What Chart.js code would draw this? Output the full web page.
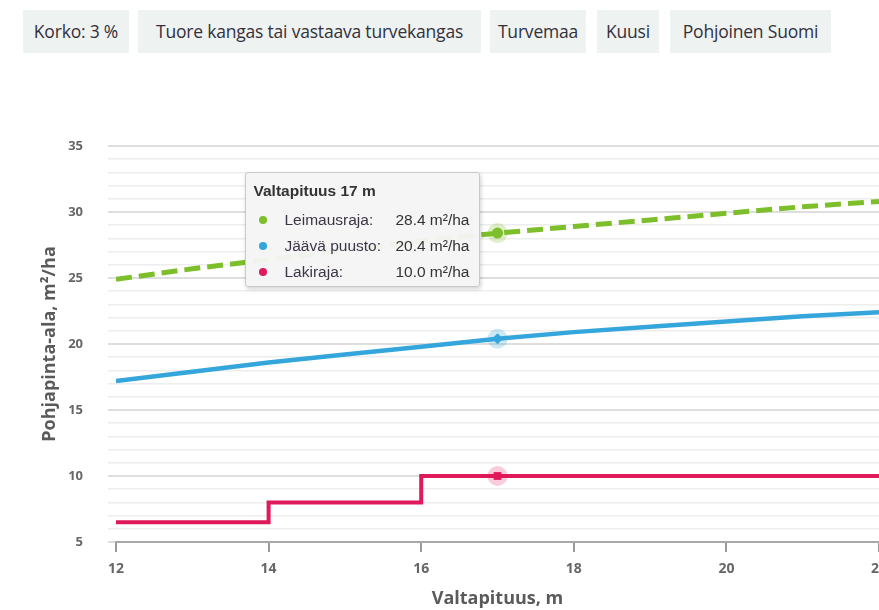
<!DOCTYPE html>
<html>
<head>
<meta charset="utf-8">
<script src="https://cdn.jsdelivr.net/npm/chart.js@4.4.0/dist/chart.umd.min.js"></script>
<style>
    html, body { margin: 0; padding: 0; background: #fff; width: 879px; height: 610px; overflow: hidden; position: relative; font-family: "Open Sans", sans-serif; }
    .chip { position: absolute; top: 10px; height: 43px; line-height: 43px; background: #eef3f2; color: #34303a; font-size: 17.5px; text-align: center; white-space: nowrap; letter-spacing: -0.2px; }
    #wrap { position: absolute; left: 0; top: 60px; width: 920px; height: 550px; }
    #tip { position: absolute; display: none; width: 235px; height: 115px; box-sizing: border-box; background: rgba(245,245,245,0.96); border: 1px solid #c9c9c9; border-radius: 3px; box-shadow: 1px 2px 4px rgba(0,0,0,0.18); font-family: "Liberation Sans", Arial, sans-serif; font-size: 15.5px; color: #333; }
    #tip .t { position: absolute; left: 8px; top: 9px; font-weight: bold; }
    #tip .r { position: absolute; left: 0; width: 100%; height: 18px; line-height: 18px; }
    #tip .d { position: absolute; left: 13px; top: 5px; width: 8px; height: 8px; border-radius: 50%; }
    #tip .l { position: absolute; left: 39px; color: #3d3546; }
    #tip .v { position: absolute; right: 9px; }
</style>
</head>
<body>
<div class="chip" style="left:23px;width:106px">Korko: 3 %</div>
<div class="chip" style="left:138px;width:343px">Tuore kangas tai vastaava turvekangas</div>
<div class="chip" style="left:490px;width:96px">Turvemaa</div>
<div class="chip" style="left:597px;width:62px">Kuusi</div>
<div class="chip" style="left:670px;width:161px">Pohjoinen Suomi</div>
<div id="wrap"><canvas id="myChart" width="920" height="550"></canvas></div>
<div id="tip"></div>
<script>
// ---------------- data ----------------
var heights = [12, 13, 14, 15, 16, 17, 18, 19, 20, 21, 22];
var leimausraja = [24.9, 25.7, 26.4, 27.1, 27.8, 28.4, 28.9, 29.4, 29.9, 30.4, 30.8];
var jaavaPuusto = [17.2, 17.9, 18.6, 19.2, 19.8, 20.4, 20.9, 21.3, 21.7, 22.1, 22.4];
var lakiraja = [6.5, 6.5, 8.0, 8.0, 10.0, 10.0, 10.0, 10.0, 10.0, 10.0, 10.0];
var seriesNames = ["Leimausraja:", "Jäävä puusto:", "Lakiraja:"];
var seriesColors = ["#7cbf2a", "#35a6dc", "#e0195a"];
var haloColors = ["rgba(124,191,42,0.25)", "rgba(53,166,220,0.25)", "rgba(224,25,90,0.22)"];
var activeHeight = 17;
var activeIdx = heights.indexOf(activeHeight);

function points(values) {
    return heights.map(function (h, i) { return { x: h, y: values[i] }; });
}
function markerRadius(ctx) { return ctx.dataIndex === activeIdx ? 5.5 : 0; }

// halo behind the highlighted points
var haloPlugin = {
    id: 'halo',
    afterDatasetsDraw: function (chart) {
        var c = chart.ctx;
        chart.data.datasets.forEach(function (ds, i) {
            var el = chart.getDatasetMeta(i).data[activeIdx];
            c.save();
            c.fillStyle = haloColors[i];
            c.beginPath();
            c.arc(el.x, el.y, 10, 0, Math.PI * 2);
            c.fill();
            c.restore();
        });
    }
};

function externalTooltip(context) {
    var tip = document.getElementById('tip');
    var tt = context.tooltip;
    if (tt.opacity === 0 || !tt.dataPoints || !tt.dataPoints.length) { tip.style.display = 'none'; return; }
    var html = '<div class="t">Valtapituus ' + tt.dataPoints[0].parsed.x + ' m</div>';
    tt.dataPoints.forEach(function (dp, i) {
        html += '<div class="r" style="top:' + (38 + i * 26) + 'px">' +
            '<span class="d" style="background:' + seriesColors[dp.datasetIndex] + '"></span>' +
            '<span class="l">' + seriesNames[dp.datasetIndex] + '</span>' +
            '<span class="v">' + dp.parsed.y.toFixed(1) + ' m²/ha</span></div>';
    });
    tip.innerHTML = html;
    var el = tt.dataPoints[0].element;
    var area = context.chart.chartArea;
    tip.style.display = 'block';
    tip.style.left = (el.x - 253) + 'px';
    tip.style.top = (60 + area.top + 26) + 'px';
}

var tickFont = { family: "Open Sans", size: 14, weight: 'bold' };
var titleFont = { family: "Open Sans", size: 18, weight: 'bold' };

var chart = new Chart("myChart", {
    type: "line",
    data: {
        datasets: [{
            label: "Leimausraja",
            data: points(leimausraja),
            borderColor: seriesColors[0],
            backgroundColor: seriesColors[0],
            borderWidth: 5,
            borderDash: [16, 7],
            pointStyle: 'circle',
            pointRadius: markerRadius,
            pointBorderWidth: 0,
            order: 3
        }, {
            label: "Jäävä puusto",
            data: points(jaavaPuusto),
            borderColor: seriesColors[1],
            backgroundColor: seriesColors[1],
            borderWidth: 4.5,
            pointStyle: 'rectRot',
            pointRadius: markerRadius,
            pointBorderWidth: 0,
            order: 2
        }, {
            label: "Lakiraja",
            data: points(lakiraja),
            borderColor: seriesColors[2],
            backgroundColor: seriesColors[2],
            borderWidth: 4,
            stepped: true,
            pointStyle: 'rect',
            pointRadius: markerRadius,
            pointBorderWidth: 0,
            order: 1
        }]
    },
    plugins: [haloPlugin],
    options: {
        responsive: false,
        animation: false,
        events: [],
        layout: { padding: { top: 86, right: 41, left: 0, bottom: 0 } },
        plugins: {
            legend: { display: false },
            tooltip: { enabled: false, external: externalTooltip, mode: 'index' }
        },
        scales: {
            x: {
                type: 'linear',
                min: 12,
                max: 22,
                afterFit: function (s) { s.height = 68; },
                ticks: { stepSize: 2, color: '#666', font: tickFont, padding: 9, maxRotation: 0 },
                grid: { drawOnChartArea: false, drawTicks: true, tickLength: 10, color: '#9a9a9a', lineWidth: 2 },
                border: { display: true, color: '#a8a8a8', width: 2 },
                title: { display: true, text: 'Valtapituus, m', color: '#5a5a5a', font: titleFont, padding: { top: 0, bottom: 0 } }
            },
            y: {
                min: 5,
                max: 35,
                afterFit: function (s) { s.width = 116; },
                ticks: {
                    stepSize: 1,
                    autoSkip: false,
                    color: '#666',
                    font: { family: "Open Sans", size: 13, weight: 'bold' },
                    padding: 25,
                    callback: function (v) { return v % 5 === 0 ? v : ''; }
                },
                grid: {
                    tickLength: 8,
                    color: function (ctx) { return ctx.tick && ctx.tick.value % 5 === 0 ? '#dedede' : '#ededed'; },
                    lineWidth: function (ctx) { return ctx.tick && ctx.tick.value % 5 === 0 ? 2 : 1.5; }
                },
                border: { display: false },
                title: { display: true, text: 'Pohjapinta-ala, m²/ha', color: '#5a5a5a', font: titleFont, padding: { top: 39, bottom: 0 } }
            }
        }
    }
});

// show the tooltip for the highlighted height
var active = chart.data.datasets.map(function (ds, i) { return { datasetIndex: i, index: activeIdx }; });
var ref = chart.getDatasetMeta(0).data[activeIdx];
chart.tooltip.setActiveElements(active, { x: ref.x, y: ref.y });
chart.update('none');
</script>
</body>
</html>
